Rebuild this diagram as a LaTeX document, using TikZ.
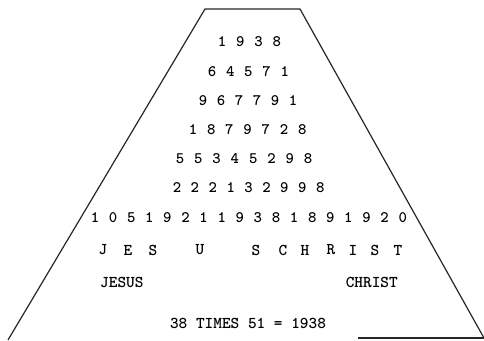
\documentclass[tikz,border=0pt]{standalone}
\usepackage{fontspec}
\newfontfamily\typefont{lmmonolt10}[Extension=.otf, UprightFont=*-regular, BoldFont=*-bold]
\usepackage{tikz}
\usetikzlibrary{positioning}

\begin{document}
\begin{tikzpicture}[
    x=1pt, y=-1pt,
    numnode/.style={
        inner sep=0pt, font=\fontsize{16}{16}\selectfont\typefont\bfseries
    },
    wordnode/.style={
        inner sep=0pt, font=\fontsize{16.5}{16.5}\selectfont\typefont\bfseries
    },
    edge/.style={line width=1.2pt, black!85}
]
\useasboundingbox (0,0) rectangle (484,340);

% Trapezoid outline
\coordinate (tl) at (205,9);
\coordinate (tr) at (300,9);
\coordinate (bl) at (8,340);
\coordinate (br) at (484,338);
\coordinate (bm) at (358,338);
\draw[edge] (bl) -- (tl) -- (tr) -- (br);
\draw[edge, line width=1.6pt] (bm) -- (br);

% Number rows (top to bottom)
\foreach \d [count=\i] in {1,9,3,8}
    \node[numnode] (r1-\i) at ({222+(\i-1)*18.3}, 42) {\d};
\foreach \d [count=\i] in {6,4,5,7,1}
    \node[numnode] (r2-\i) at ({212+(\i-1)*18.2}, 72) {\d};
\foreach \d [count=\i] in {9,6,7,7,9,1}
    \node[numnode] (r3-\i) at ({203+(\i-1)*18}, 101) {\d};
\foreach \d [count=\i] in {1,8,7,9,7,2,8}
    \node[numnode] (r4-\i) at ({193+(\i-1)*18.2}, 130) {\d};
\foreach \d [count=\i] in {5,5,3,4,5,2,9,8}
    \node[numnode] (r5-\i) at ({180+(\i-1)*18.3}, 159) {\d};
\foreach \d [count=\i] in {2,2,2,1,3,2,9,9,8}
    \node[numnode] (r6-\i) at ({177+(\i-1)*17.9}, 188) {\d};
\foreach \d [count=\i] in {1,0,5,1,9,2,1,1,9,3,8,1,8,9,1,9,2,0}
    \node[numnode] (r7-\i) at ({95+(\i-1)*18.1}, 218) {\d};

% Letters under the long row
\foreach \ch/\px [count=\i] in {J/103,E/128,S/153,U/200,S/256,C/283,H/305,R/331,I/353,S/375,T/398}
    \node[wordnode] (l\i) at (\px, 250) {\ch};

% Words
\node[wordnode, anchor=west] (jesus) at (100,282) {JESUS};
\node[wordnode, anchor=east] (christ) at (398,282) {CHRIST};
\node[wordnode] (times) at (248,323) {38 TIMES 51 = 1938};
\end{tikzpicture}
\end{document}
